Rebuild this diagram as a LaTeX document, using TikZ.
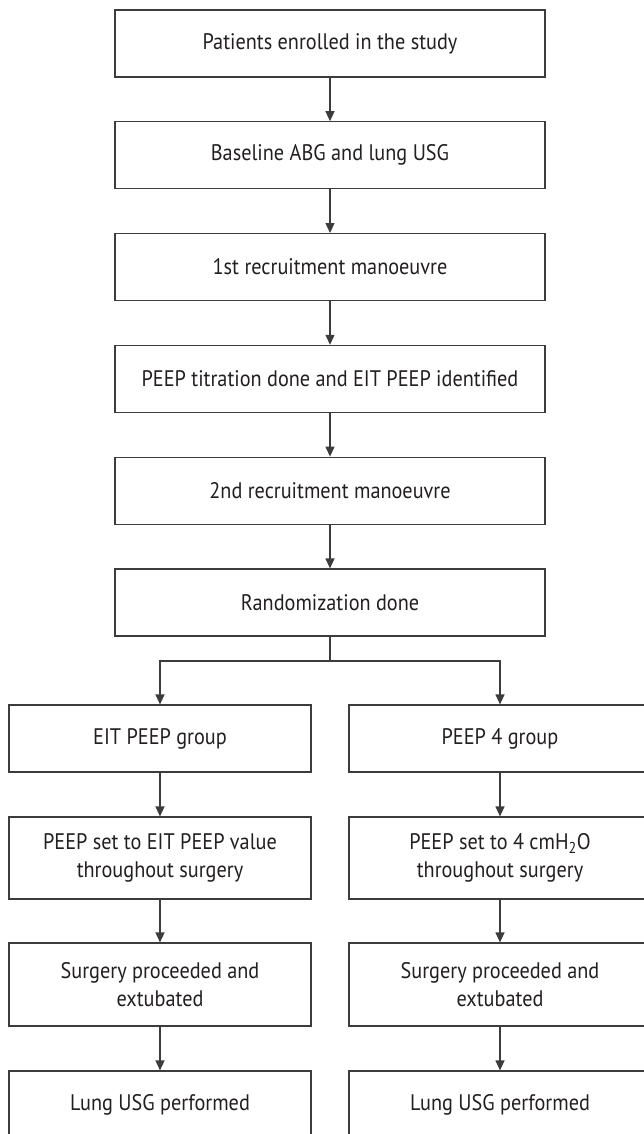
\documentclass[tikz,border=0pt]{standalone}
\usepackage{fontspec}
\setmainfont{PT Sans}[FakeStretch=0.9]
\usetikzlibrary{arrows.meta}
\definecolor{linec}{HTML}{3C3C3C}
\definecolor{textc}{HTML}{231F20}
\tikzset{
  box/.style={draw=linec, line width=1.2pt, fill=white, inner sep=0pt, align=center,
    text=textc, font=\fontsize{22.5}{28}\selectfont},
  topbox/.style={box, minimum width=430pt, minimum height=67pt},
  colbox/.style={box, minimum width=302pt},
  conn/.style={draw=linec, line width=1.2pt, -{Triangle[width=9pt,length=10pt]}},
  plainconn/.style={draw=linec, line width=1.2pt}
}
\begin{document}
\begin{tikzpicture}[x=1pt,y=-1pt]
\useasboundingbox (0,0) rectangle (644,1134);
\clip (0,0) rectangle (644,1134);
\fill[white] (0,0) rectangle (644,1134);
\node[topbox] (n1) at (330,43.5) {Patients enrolled in the study};
\node[topbox] (n2) at (330,155.3) {Baseline ABG and lung USG};
\node[topbox] (n3) at (330,267.1) {1st recruitment manoeuvre};
\node[topbox] (n4) at (330,378.9) {PEEP titration done and EIT PEEP identified};
\node[topbox] (n5) at (330,490.7) {2nd recruitment manoeuvre};
\node[topbox] (n6) at (330,602.5) {Randomization done};
\node[colbox, minimum height=67pt] (l1) at (160,738.5) {EIT PEEP group};
\node[colbox, minimum height=82pt] (l2) at (160,858) {PEEP set to EIT PEEP value\\throughout surgery};
\node[colbox, minimum height=83pt] (l3) at (160,984.5) {Surgery proceeded and\\extubated};
\node[colbox, minimum height=67pt] (l4) at (160,1104.5) {Lung USG performed};
\node[colbox, minimum height=67pt] (r1) at (500,738.5) {PEEP 4 group};
\node[colbox, minimum height=82pt] (r2) at (500,858) {PEEP set to 4 cmH\textsubscript{2}O\\throughout surgery};
\node[colbox, minimum height=83pt] (r3) at (500,984.5) {Surgery proceeded and\\extubated};
\node[colbox, minimum height=67pt] (r4) at (500,1104.5) {Lung USG performed};
\draw[conn] (n1) -- (n2);
\draw[conn] (n2) -- (n3);
\draw[conn] (n3) -- (n4);
\draw[conn] (n4) -- (n5);
\draw[conn] (n5) -- (n6);
\coordinate (split) at (330,661);
\draw[plainconn] (n6.south) -- (split);
\draw[conn] (split) -| (l1.north);
\draw[conn] (split) -| (r1.north);
\draw[conn] (l1) -- (l2);
\draw[conn] (l2) -- (l3);
\draw[conn] (l3) -- (l4);
\draw[conn] (r1) -- (r2);
\draw[conn] (r2) -- (r3);
\draw[conn] (r3) -- (r4);
\end{tikzpicture}
\end{document}
